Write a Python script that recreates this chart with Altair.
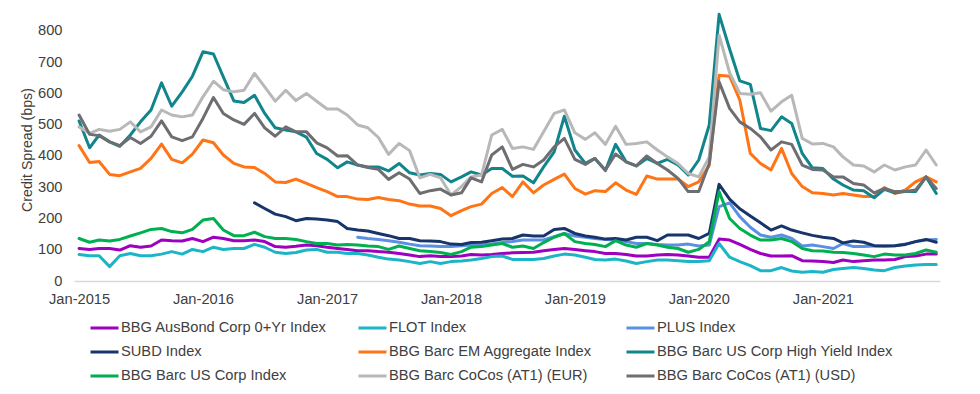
import altair as alt
import pandas as pd

months = pd.date_range("2015-01-01", periods=84, freq="MS")

series_names = [
    "BBG AusBond Corp 0+Yr Index",
    "FLOT Index",
    "PLUS Index",
    "SUBD Index",
    "BBG Barc EM Aggregate Index",
    "BBG Barc US Corp High Yield Index",
    "BBG Barc US Corp Index",
    "BBG Barc CoCos (AT1) (EUR)",
    "BBG Barc CoCos (AT1) (USD)",
]
colors = ["#9D00BE", "#1CB5C8", "#5B8FE3", "#17356B", "#FF7415",
          "#10868C", "#00B050", "#B8B8B8", "#6E6E72"]

ausbond = [104, 101, 104, 104, 99, 113, 108, 112, 131, 129, 128, 136, 126, 140, 136, 129, 129, 131, 126, 110,
           108, 111, 115, 113, 108, 104, 101, 97, 97, 94, 92, 88, 83, 78, 81, 78, 78, 80, 85, 83,
           85, 88, 90, 91, 92, 97, 101, 104, 101, 97, 94, 88, 88, 85, 80, 80, 83, 85, 83, 80,
           76, 76, 134, 131, 117, 101, 88, 80, 80, 81, 65, 64, 62, 59, 67, 62, 65, 67, 67, 69,
           78, 80, 86, 86]
flot = [85, 81, 81, 46, 81, 88, 81, 81, 86, 94, 86, 101, 94, 108, 101, 104, 104, 117, 108, 92,
        88, 91, 99, 101, 92, 92, 88, 88, 83, 76, 70, 67, 62, 56, 62, 56, 62, 64, 67, 72,
        78, 80, 69, 69, 69, 72, 80, 86, 83, 76, 69, 67, 70, 64, 56, 62, 67, 67, 65, 62,
        62, 65, 120, 76, 62, 49, 33, 33, 43, 32, 28, 30, 28, 37, 40, 43, 40, 35, 33, 43,
        48, 51, 53, 53]
plus = [None] * 27 + [
    140, 136, 133, 129, 124, 118, 113, 112, 110, 110, 113, 115, 115,
    118, 123, 126, 131, 131, 131, 142, 152, 144, 140, 136, 133, 131, 126, 120, 120, 117, 115, 115, 118,
    112, 115, 238, 250, 206, 172, 147, 140, 147, 136, 112, 115, 110, 104, 120, 110, 110, 112, 112, 113,
    118, 126, 131, 133]
subd = [None] * 17 + [
    250, 232, 214, 206, 193, 200, 198, 195, 190, 168, 163, 160, 152, 145, 136, 136, 129, 128, 126, 118,
    117, 123, 124, 129, 134, 136, 147, 144, 144, 165, 168, 152, 144, 140, 134, 136, 131, 140, 140, 129,
    147, 147, 147, 136, 152, 309, 262, 231, 208, 186, 163, 176, 163, 154, 146, 140, 136, 122, 128,
    124, 113, 112, 113, 117, 126, 133, 124]
em = [433, 379, 382, 341, 337, 349, 360, 392, 438, 389, 378, 406, 451, 442, 403, 376, 365, 363, 344, 317,
      315, 326, 312, 299, 286, 270, 270, 262, 261, 267, 261, 257, 246, 240, 240, 232, 209, 225, 238, 246,
      280, 299, 270, 317, 282, 307, 325, 342, 296, 278, 289, 286, 314, 291, 277, 336, 326, 326, 326, 302,
      317, 370, 658, 655, 579, 408, 376, 355, 424, 344, 302, 282, 280, 275, 280, 275, 270, 270, 299, 280,
      291, 317, 333, 317]
hy = [512, 426, 467, 445, 431, 467, 509, 547, 634, 559, 605, 655, 733, 726, 653, 576, 571, 594, 536, 490,
      483, 477, 460, 408, 389, 362, 381, 371, 365, 365, 352, 376, 346, 339, 344, 341, 317, 333, 349, 339,
      360, 360, 335, 336, 314, 365, 413, 527, 419, 376, 392, 353, 437, 381, 368, 392, 376, 389, 371, 339,
      387, 499, 853, 742, 640, 629, 488, 481, 525, 504, 408, 362, 360, 326, 307, 291, 289, 266, 293, 282,
      286, 286, 333, 280]
uscorp = [136, 124, 131, 128, 133, 144, 154, 165, 168, 158, 154, 165, 195, 200, 163, 145, 145, 156, 142, 136,
          136, 133, 126, 120, 120, 115, 117, 115, 112, 110, 101, 112, 104, 97, 94, 91, 85, 94, 108, 110,
          115, 120, 108, 112, 104, 123, 140, 152, 126, 120, 117, 110, 129, 115, 108, 120, 115, 108, 104, 92,
          101, 126, 286, 200, 168, 147, 131, 131, 136, 126, 104, 97, 96, 92, 91, 88, 83, 78, 86, 83,
          83, 88, 99, 92]
cocos_eur = [493, 472, 485, 479, 485, 509, 477, 493, 547, 531, 525, 531, 589, 639, 612, 605, 610, 664, 621, 575,
             610, 577, 600, 575, 550, 550, 531, 499, 490, 459, 405, 440, 417, 330, 341, 330, 275, 302, 333, 339,
             467, 485, 424, 429, 421, 477, 536, 547, 474, 453, 474, 437, 495, 437, 440, 445, 419, 397, 376, 344,
             333, 397, 786, 666, 600, 597, 602, 543, 573, 594, 456, 438, 440, 429, 397, 371, 368, 349, 371, 355,
             365, 371, 419, 371]
cocos_usd = [531, 469, 465, 445, 433, 459, 440, 463, 512, 461, 449, 461, 520, 587, 536, 515, 501, 536, 490, 463,
             493, 477, 477, 442, 426, 400, 401, 371, 363, 357, 325, 346, 326, 280, 289, 294, 275, 282, 330, 317,
             403, 429, 357, 373, 365, 387, 429, 456, 389, 373, 392, 355, 406, 381, 368, 400, 376, 355, 328, 286,
             286, 376, 637, 552, 509, 488, 461, 419, 445, 437, 371, 357, 355, 333, 333, 312, 307, 282, 296, 286,
             286, 291, 333, 296]

all_series = [ausbond, flot, plus, subd, em, hy, uscorp, cocos_eur, cocos_usd]

rows = []
for name, vals in zip(series_names, all_series):
    for d, v in zip(months, vals):
        if v is not None:
            rows.append({"date": d, "series": name, "value": v})
df = pd.DataFrame(rows)

FONT = "Liberation Sans"
TXT = "#404040"
FS = 14.67

year_ticks = [alt.DateTime(year=y, month=1, date=1) for y in range(2015, 2022)]

chart = alt.Chart(df).mark_line(strokeWidth=3, strokeJoin="round", strokeCap="round").encode(
    x=alt.X(
        "date:T",
        scale=alt.Scale(domain=[alt.DateTime(year=2014, month=12, date=17),
                                alt.DateTime(year=2021, month=12, date=12)]),
        axis=alt.Axis(values=year_ticks, format="%b-%Y", title=None, grid=False, ticks=False,
                      domain=True, domainColor="#D9D9D9", domainWidth=1.5,
                      labelFont=FONT, labelFontSize=FS, labelColor=TXT, labelPadding=10,
                      labelFlush=False, labelOverlap=False),
    ),
    y=alt.Y(
        "value:Q",
        scale=alt.Scale(domain=[0, 870], nice=False),
        axis=alt.Axis(values=list(range(0, 900, 100)), grid=False, ticks=False, domain=False,
                      labelFont=FONT, labelFontSize=FS, labelColor=TXT, labelPadding=12,
                      title="Credit Spread (bps)", titleFont=FONT, titleFontSize=14.2,
                      titleFontWeight="normal", titleColor=TXT, titleX=-47, titleY=140.5,
                      titleAngle=270, titleAlign="center", titleBaseline="middle"),
    ),
    color=alt.Color(
        "series:N",
        scale=alt.Scale(domain=series_names, range=colors),
        legend=alt.Legend(orient="none", legendX=15, legendY=307, direction="horizontal",
                          columns=3, title=None, symbolType="stroke", symbolSize=784,
                          symbolStrokeWidth=3, labelFont=FONT, labelFontSize=FS,
                          labelColor=TXT, labelOffset=1, gridAlign="all", columnPadding=-2,
                          rowPadding=0, clipHeight=24, padding=0, labelLimit=400),
    ),
).properties(
    width=866,
    height=272,
    autosize=alt.AutoSizeParams(type="none"),
    padding={"left": 66, "top": 1, "right": 6, "bottom": 112},
).configure_view(stroke=None)

chart.save("out.html", embed_options={"renderer": "svg", "actions": False})
